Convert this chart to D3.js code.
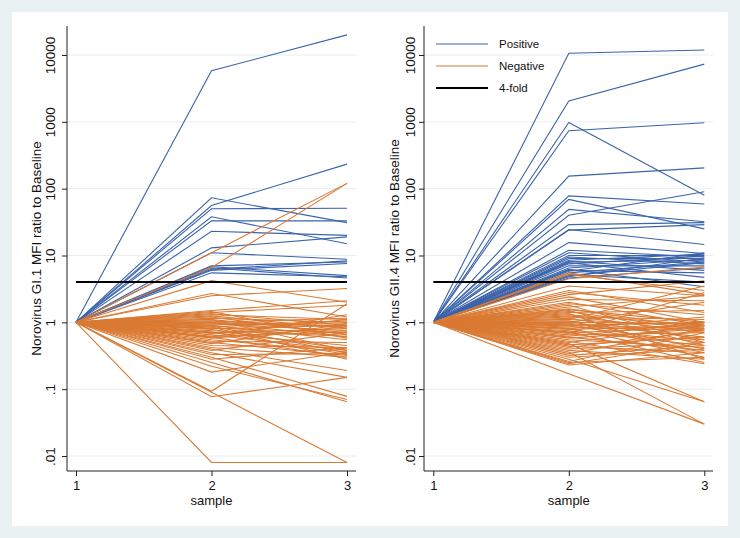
<!DOCTYPE html>
<html>
<head>
<meta charset="utf-8">
<script src="https://cdn.jsdelivr.net/npm/d3@7/dist/d3.min.js"></script>
<style>
  html, body { margin: 0; padding: 0; background: #eaf1f3; }
  svg { display: block; }
  text { font-family: "Liberation Sans", Arial, sans-serif; fill: #111; }
</style>
</head>
<body>
<svg id="chart" width="740" height="538"></svg>
<script>
// ---------------- data ----------------
const samples = [1, 2, 3];
const yTickValues = [0.01, 0.1, 1, 10, 100, 1000, 10000];
const yTickLabels = [".01", ".1", "1", "10", "100", "1000", "10000"];
const foldThreshold = 4;
const legendLabels = ["Positive", "Negative", "4-fold"];
const panelTitles = ["Norovirus GI.1 MFI ratio to Baseline", "Norovirus GII.4 MFI ratio to Baseline"];
const xTitle = "sample";

// GI.1 panel: ratio to baseline at sample 2 and sample 3 (sample 1 = 1)
const gi1PosS2 = [5800, 73, 56, 50, 38, 33, 23, 13, 11, 7, 6.8, 6.5, 6.0, 5.5, 6.2];
const gi1PosS3 = [20000, 31, 233, 51, 15, 33, 20, 19, 8.8, 8.0, 5.0, 4.6, 7.6, 4.8, 8.3];
const gi1NegS2 = [11, 6.6, 4.2, 2.7, 2.5, 1.5, 1.4, 1.35, 1.3, 1.25, 1.2, 1.15, 1.1, 1.05, 1.0, 1.0, 0.95, 0.92, 0.9, 0.88, 0.85, 0.82, 0.8, 0.78, 0.75, 0.72, 0.7, 0.68, 0.65, 0.62, 0.6, 0.58, 0.55, 0.52, 0.5, 0.48, 0.45, 0.42, 0.4, 0.38, 0.35, 0.33, 0.3, 0.28, 0.25, 0.22, 0.18, 0.093, 0.09, 0.077, 0.008, 0.6, 0.85, 0.7, 1.1, 1.45, 0.98];
const gi1NegS3 = [120, 120, 2.0, 1.2, 3.2, 2.1, 1.8, 0.9, 1.1, 0.8, 0.65, 1.0, 0.7, 0.85, 1.15, 0.6, 0.75, 0.95, 0.55, 0.35, 1.05, 0.7, 0.9, 0.4, 0.62, 0.33, 0.8, 1.1, 0.38, 0.72, 0.3, 0.85, 0.36, 0.5, 0.32, 0.95, 0.42, 0.3, 0.19, 0.7, 0.15, 0.34, 0.078, 0.42, 0.065, 0.07, 0.36, 1.9, 0.008, 0.15, 0.008, 1.3, 0.28, 0.45, 0.38, 0.58, 0.88];

// GII.4 panel
const gii4PosS2 = [10600, 2050, 980, 735, 154, 78, 69, 49, 40, 29, 24.5, 24, 15.6, 12, 11, 10, 9.5, 9, 8.5, 8.2, 8, 7.8, 7.5, 7, 6.5, 6.2, 6, 5.8, 5.5, 5.2, 5, 4.8, 4.6];
const gii4PosS3 = [11900, 7300, 80, 970, 205, 59, 25, 32, 90, 31, 14.6, 29, 10.7, 9.5, 8, 10, 7.5, 9, 10.5, 6, 8.5, 4.7, 9.8, 7, 8.8, 3.4, 5.5, 11, 8, 4, 7.8, 9.2, 6.5];
const gii4NegS2 = [5.5, 5.2, 4.5, 3.5, 3.0, 2.6, 2.4, 2.2, 2.0, 1.9, 1.8, 1.7, 1.6, 1.55, 1.5, 1.45, 1.4, 1.35, 1.3, 1.25, 1.2, 1.15, 1.1, 1.05, 1.0, 1.0, 0.97, 0.95, 0.92, 0.9, 0.88, 0.85, 0.82, 0.8, 0.78, 0.75, 0.72, 0.7, 0.68, 0.65, 0.62, 0.6, 0.58, 0.55, 0.52, 0.5, 0.48, 0.46, 0.44, 0.42, 0.4, 0.38, 0.36, 0.34, 0.32, 0.3, 0.28, 0.26, 0.25, 0.24, 0.23, 0.17, 2.8, 1.1, 0.7];
const gii4NegS3 = [2.6, 3.0, 6.7, 2.5, 1.4, 4.2, 1.0, 2.1, 0.9, 1.3, 0.5, 2.5, 0.8, 1.0, 0.45, 0.75, 1.5, 0.28, 0.9, 0.7, 1.1, 0.55, 0.85, 0.4, 0.95, 2.0, 0.6, 0.35, 0.8, 1.0, 0.5, 0.75, 0.3, 1.2, 0.9, 0.45, 0.25, 0.85, 0.55, 0.7, 1.0, 0.38, 0.8, 0.42, 0.24, 0.9, 0.065, 0.6, 0.35, 0.75, 0.5, 0.28, 0.03, 0.8, 0.45, 0.4, 0.065, 0.7, 0.3, 0.5, 0.35, 0.03, 1.8, 3.5, 2.8];

// ---------------- drawing ----------------
const colPos = "#3b64ab", colNeg = "#da7a33", colFold = "#000000";
const svg = d3.select("#chart");
svg.append("rect").attr("x", 12).attr("y", 12).attr("width", 716).attr("height", 514).attr("fill", "#ffffff");

function series(s2, s3) {
  return s2.map((v, i) => [1, v, s3[i]]);
}

const panels = [
  { title: panelTitles[0], pos: series(gi1PosS2, gi1PosS3), neg: series(gi1NegS2, gi1NegS3),
    axisX: 67, x0: 76, x1: 347, xEnd: 356, titleX: 41, tickLabelX: 55, legend: false },
  { title: panelTitles[1], pos: series(gii4PosS2, gii4PosS3), neg: series(gii4NegS2, gii4NegS3),
    axisX: 424, x0: 433.3, x1: 704.3, xEnd: 713, titleX: 399, tickLabelX: 415, legend: true }
];

const yTop = 26, yBottom = 471;
const y = d3.scaleLog().domain([0.01, 10000]).range([456, 55]);

panels.forEach(p => {
  const g = svg.append("g");
  const x = d3.scaleLinear().domain([1, 3]).range([p.x0, p.x1]);

  // gridlines
  g.selectAll("line.grid").data(yTickValues).join("line")
    .attr("x1", p.axisX).attr("x2", p.xEnd)
    .attr("y1", d => y(d)).attr("y2", d => y(d))
    .attr("stroke", "#e6eef2").attr("stroke-width", 1);

  const line = d3.line().x((d, i) => x(samples[i])).y(d => y(d));

  g.selectAll("path.pos").data(p.pos).join("path")
    .attr("d", line).attr("fill", "none").attr("stroke", colPos).attr("stroke-width", 1.1);
  g.selectAll("path.neg").data(p.neg).join("path")
    .attr("d", line).attr("fill", "none").attr("stroke", colNeg).attr("stroke-width", 1.1);

  // 4-fold line
  g.append("line").attr("x1", x(1)).attr("x2", x(3))
    .attr("y1", y(foldThreshold)).attr("y2", y(foldThreshold))
    .attr("stroke", colFold).attr("stroke-width", 2);

  // y axis
  const yAxis = d3.axisLeft(y).tickValues(yTickValues)
    .tickFormat((d, i) => yTickLabels[i]).tickSize(5).tickSizeOuter(0);
  const ya = g.append("g").attr("transform", `translate(${p.axisX},0)`).call(yAxis);
  ya.select(".domain").remove();
  ya.selectAll(".tick line").attr("stroke", "#222");
  ya.selectAll(".tick text")
    .attr("x", 0).attr("y", 0).attr("dy", null)
    .attr("transform", `translate(${p.tickLabelX - p.axisX},0) rotate(-90)`)
    .attr("text-anchor", "middle")
    .style("font-size", "13.5px").style("font-family", "Liberation Sans, Arial, sans-serif").attr("fill", "#111");
  g.append("line").attr("x1", p.axisX).attr("x2", p.axisX).attr("y1", yTop).attr("y2", yBottom)
    .attr("stroke", "#222").attr("stroke-width", 1);

  // x axis
  const xAxis = d3.axisBottom(x).tickValues(samples).tickFormat(d3.format("d")).tickSize(5).tickSizeOuter(0);
  const xa = g.append("g").attr("transform", `translate(0,${yBottom})`).call(xAxis);
  xa.select(".domain").remove();
  xa.selectAll(".tick line").attr("stroke", "#222");
  xa.selectAll(".tick text").attr("y", 18.5).attr("dy", null)
    .style("font-size", "13px").style("font-family", "Liberation Sans, Arial, sans-serif").attr("fill", "#111");
  g.append("line").attr("x1", p.axisX).attr("x2", p.xEnd).attr("y1", yBottom).attr("y2", yBottom)
    .attr("stroke", "#222").attr("stroke-width", 1);

  // titles
  g.append("text").attr("transform", `translate(${p.titleX},${(yTop + yBottom) / 2}) rotate(-90)`)
    .attr("text-anchor", "middle").style("font-size", "13.5px").text(p.title);
  g.append("text").attr("x", x(2)).attr("y", 505).attr("text-anchor", "middle")
    .style("font-size", "13px").text(xTitle);

  if (p.legend) {
    const cols = [colPos, colNeg, colFold];
    const widths = [1.2, 1.2, 2.2];
    const lg = g.append("g");
    legendLabels.forEach((lab, i) => {
      const ly = 44 + i * 22;
      lg.append("line").attr("x1", 436).attr("x2", 488).attr("y1", ly).attr("y2", ly)
        .attr("stroke", cols[i]).attr("stroke-width", widths[i]);
      lg.append("text").attr("x", 499).attr("y", ly + 4).style("font-size", "11.5px").text(lab);
    });
  }
});
</script>
</body>
</html>
